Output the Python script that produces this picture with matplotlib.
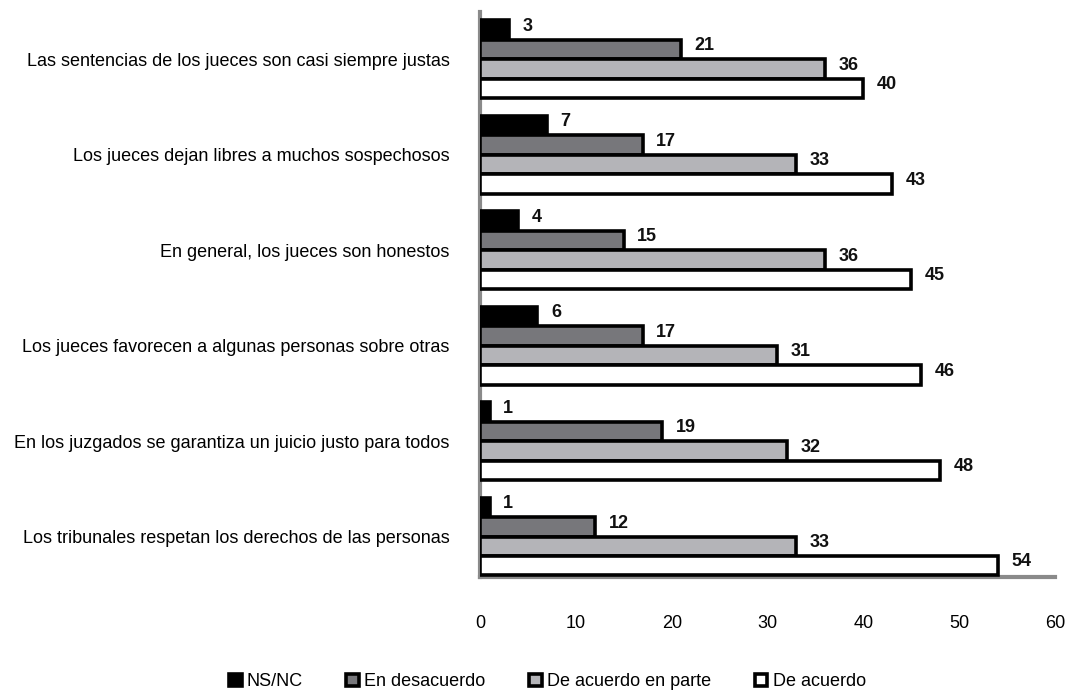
import matplotlib
matplotlib.use("Agg")
import matplotlib.pyplot as plt
from matplotlib import font_manager
import numpy as np

categories = [
    "Las sentencias de los jueces son casi siempre justas",
    "Los jueces dejan libres a muchos sospechosos",
    "En general, los jueces son honestos",
    "Los jueces favorecen a algunas personas sobre otras",
    "En los juzgados se garantiza un juicio justo para todos",
    "Los tribunales respetan los derechos de las personas",
]
series_names = ["NS/NC", "En desacuerdo", "De acuerdo en parte", "De acuerdo"]
ns_nc = [3, 7, 4, 6, 1, 1]
en_desacuerdo = [21, 17, 15, 17, 19, 12]
de_acuerdo_parte = [36, 33, 36, 31, 32, 33]
de_acuerdo = [40, 43, 45, 46, 48, 54]
xticks = [0, 10, 20, 30, 40, 50, 60]

names = {f.name for f in font_manager.fontManager.ttflist}
fam = "Liberation Sans Narrow" if "Liberation Sans Narrow" in names else "Liberation Sans"
plt.rcParams['font.family'] = [fam, 'DejaVu Sans']

fig = plt.figure(figsize=(10.69, 6.94), dpi=100)
ax = fig.add_axes([0.449, 0.168, 0.538, 0.815])

series = [ns_nc, en_desacuerdo, de_acuerdo_parte, de_acuerdo]
faces = ["#000000", "#77777b", "#b4b4b8", "#ffffff"]
h = 0.204
n = len(categories)
centers = np.arange(n)[::-1].astype(float)
handles = []
for k, (vals, fc) in enumerate(zip(series, faces)):
    y = centers + (1.5 - k) * h
    b = ax.barh(y, vals, height=h, color=fc, edgecolor="black", linewidth=2.6,
                label=series_names[k], zorder=3)
    handles.append(b)
    for yi, v in zip(y, vals):
        ax.text(v + 1.4, yi + 0.04, str(v), va="center", ha="left",
                fontsize=13, fontweight="bold", color="#111111")

ax.set_xlim(0, 60)
ax.set_ylim(-2 * h - 0.02, n - 1 + 2 * h + 0.09)
ax.set_xticks(xticks)
ax.set_xticklabels([str(t) for t in xticks], fontsize=13)
ax.set_yticks(centers)
ax.set_yticklabels(categories, fontsize=13)
ax.tick_params(axis="both", length=0)
ax.tick_params(axis="x", pad=27)
ax.tick_params(axis="y", pad=22)
for s in ["top", "right"]:
    ax.spines[s].set_visible(False)
for s in ["left", "bottom"]:
    ax.spines[s].set_color("#8a8a8a")
    ax.spines[s].set_linewidth(3)

fig.legend(handles=handles, labels=series_names, loc="lower center",
           bbox_to_anchor=(0.512, -0.018), ncol=4, frameon=False, fontsize=13,
           handlelength=0.7, handleheight=0.7, handletextpad=0.3, columnspacing=2.4)

fig.savefig("out.png", dpi=100)
